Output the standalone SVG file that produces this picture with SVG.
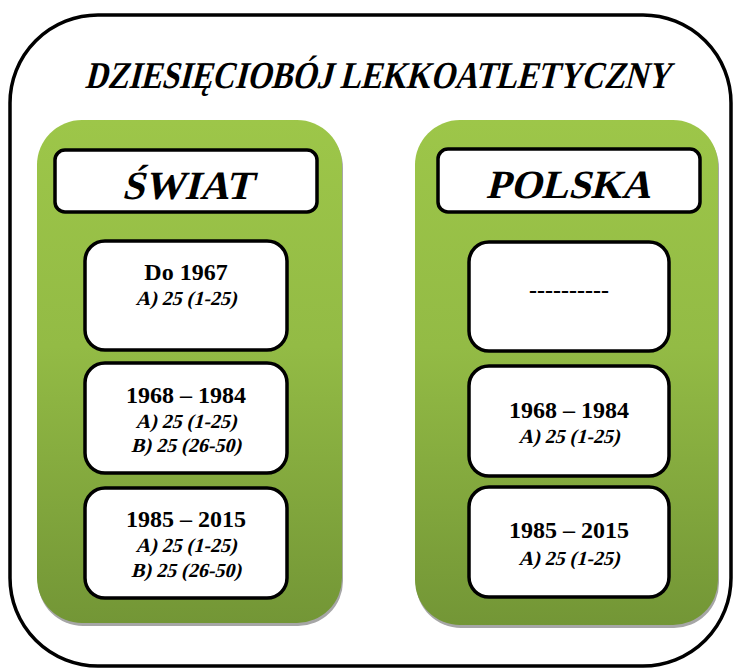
<svg xmlns="http://www.w3.org/2000/svg" width="733" height="668" viewBox="0 0 733 668">
  <style>
    .frame { fill: #ffffff; stroke: #000000; stroke-width: 3.5; }
    .panel { fill: url(#greenGrad); }
    .shadow { fill: #a6a6a6; }
    .box { fill: #ffffff; stroke: #000000; stroke-width: 3.5; }
    text { font-family: "Liberation Serif", "Times New Roman", serif; fill: #000000; text-anchor: middle; font-weight: bold; font-style: normal; }
    .title { font-size: 38px; }
    .head { font-size: 40px; }
    .year { font-size: 24px; }
    .item { font-size: 20px; }
  </style>
  <defs>
    <linearGradient id="greenGrad" x1="0" y1="0" x2="0" y2="1">
      <stop offset="0" stop-color="#9dc649"/>
      <stop offset="0.45" stop-color="#93bb45"/>
      <stop offset="1" stop-color="#739636"/>
    </linearGradient>
  </defs>

  <!-- outer frame; slanted labels use a skew on the bold upright face -->
  <rect class="frame" x="10" y="15" width="721" height="651" rx="88" ry="88"/>
  <text class="title" transform="translate(377 88) skewX(-14)" textLength="585" lengthAdjust="spacingAndGlyphs">DZIESIĘCIOBÓJ LEKKOATLETYCZNY</text>

  <!-- left column: world -->
  <g id="swiat">
    <rect class="shadow" x="38" y="123" width="305" height="503" rx="45"/>
    <rect class="panel" x="37" y="120" width="305" height="503" rx="45"/>
    <g id="swiat-head">
      <rect class="box" x="55" y="150" width="262" height="62" rx="10"/>
      <text class="head" transform="translate(187 199) skewX(-14)">ŚWIAT</text>
    </g>
    <g id="swiat-1">
      <rect class="box" x="85" y="241" width="202" height="109" rx="20"/>
      <text class="year" x="186" y="280">Do 1967</text>
      <text class="item" transform="translate(186 305) skewX(-14)">A) 25 (1-25)</text>
    </g>
    <g id="swiat-2">
      <rect class="box" x="85" y="363" width="202" height="110" rx="20"/>
      <text class="year" x="186" y="403">1968 – 1984</text>
      <text class="item" transform="translate(186 428) skewX(-14)">A) 25 (1-25)</text>
      <text class="item" transform="translate(186 452) skewX(-14)">B) 25 (26-50)</text>
    </g>
    <g id="swiat-3">
      <rect class="box" x="85" y="488" width="202" height="110" rx="20"/>
      <text class="year" x="186" y="527">1985 – 2015</text>
      <text class="item" transform="translate(186 552) skewX(-14)">A) 25 (1-25)</text>
      <text class="item" transform="translate(186 577) skewX(-14)">B) 25 (26-50)</text>
    </g>
  </g>

  <!-- right column: Poland -->
  <g id="polska">
    <rect class="shadow" x="416" y="123" width="303" height="505" rx="45"/>
    <rect class="panel" x="415" y="120" width="303" height="505" rx="45"/>
    <g id="polska-head">
      <rect class="box" x="438" y="149" width="262" height="63" rx="10"/>
      <text class="head" transform="translate(568 198) skewX(-14)">POLSKA</text>
    </g>
    <g id="polska-1">
      <rect class="box" x="469" y="242" width="200" height="109" rx="20"/>
      <text class="year" x="569" y="298">----------</text>
    </g>
    <g id="polska-2">
      <rect class="box" x="469" y="366" width="200" height="110" rx="20"/>
      <text class="year" x="569" y="418">1968 – 1984</text>
      <text class="item" transform="translate(569 443) skewX(-14)">A) 25 (1-25)</text>
    </g>
    <g id="polska-3">
      <rect class="box" x="469" y="487" width="200" height="110" rx="20"/>
      <text class="year" x="569" y="538">1985 – 2015</text>
      <text class="item" transform="translate(569 565) skewX(-14)">A) 25 (1-25)</text>
    </g>
  </g>

  <!-- no connectors between nodes -->
  <g id="connectors"/>
</svg>
